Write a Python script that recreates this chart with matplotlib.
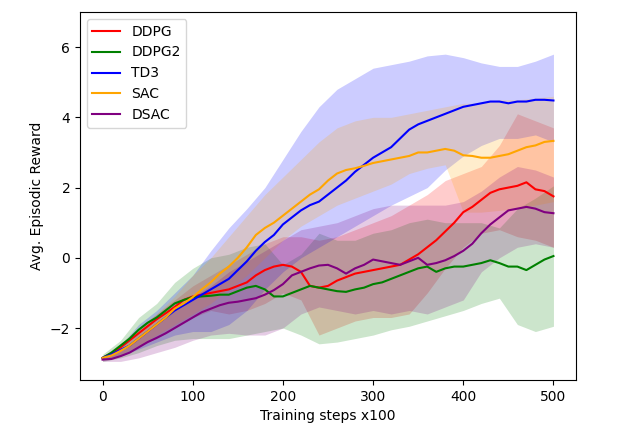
import numpy as np
import matplotlib
matplotlib.use("Agg")
import matplotlib.pyplot as plt

# mean curves, read every 10 training steps (x100)
steps = list(range(0, 501, 10))

ddpg_mean = [-2.85, -2.72, -2.55, -2.35, -2.15, -1.95, -1.75, -1.58, -1.4, -1.2,
             -1.1, -1.05, -1.0, -0.95, -0.9, -0.8, -0.7, -0.5, -0.35, -0.25,
             -0.2, -0.25, -0.4, -0.8, -0.85, -0.8, -0.65, -0.55, -0.45, -0.4,
             -0.35, -0.3, -0.25, -0.2, -0.05, 0.1, 0.3, 0.5, 0.75, 1.0,
             1.3, 1.45, 1.65, 1.85, 1.95, 2.0, 2.05, 2.15, 1.95, 1.9, 1.75]
ddpg2_mean = [-2.85, -2.7, -2.5, -2.3, -2.05, -1.85, -1.7, -1.5, -1.3, -1.2,
              -1.12, -1.1, -1.08, -1.05, -1.05, -0.95, -0.85, -0.8, -0.9, -1.1,
              -1.1, -1.0, -0.9, -0.8, -0.85, -0.9, -0.95, -0.97, -0.9, -0.85,
              -0.75, -0.7, -0.6, -0.5, -0.4, -0.3, -0.25, -0.4, -0.3, -0.25,
              -0.25, -0.2, -0.15, -0.07, -0.15, -0.25, -0.25, -0.35, -0.2, -0.05, 0.05]
td3_mean = [-2.85, -2.75, -2.62, -2.5, -2.3, -2.1, -1.9, -1.7, -1.5, -1.35,
            -1.2, -1.05, -0.9, -0.75, -0.6, -0.35, -0.1, 0.2, 0.45, 0.65,
            0.95, 1.15, 1.35, 1.5, 1.6, 1.8, 2.0, 2.2, 2.45, 2.65,
            2.85, 3.0, 3.15, 3.4, 3.65, 3.8, 3.9, 4.0, 4.1, 4.2,
            4.3, 4.35, 4.4, 4.45, 4.45, 4.4, 4.45, 4.45, 4.5, 4.5, 4.48]
sac_mean = [-2.85, -2.78, -2.65, -2.5, -2.3, -2.1, -1.9, -1.7, -1.45, -1.3,
            -1.12, -0.9, -0.7, -0.45, -0.25, 0.0, 0.3, 0.65, 0.85, 1.0,
            1.2, 1.4, 1.6, 1.8, 1.95, 2.2, 2.4, 2.5, 2.55, 2.62,
            2.7, 2.75, 2.8, 2.85, 2.9, 3.0, 3.0, 3.05, 3.1, 3.05,
            2.92, 2.9, 2.85, 2.85, 2.9, 2.95, 3.05, 3.15, 3.2, 3.3, 3.33]
dsac_mean = [-2.9, -2.88, -2.8, -2.7, -2.55, -2.4, -2.28, -2.15, -2.0, -1.85,
             -1.7, -1.55, -1.45, -1.35, -1.28, -1.25, -1.2, -1.15, -1.05, -0.92,
             -0.75, -0.5, -0.4, -0.3, -0.22, -0.2, -0.3, -0.45, -0.3, -0.2,
             -0.05, -0.1, -0.15, -0.2, -0.1, 0.0, -0.2, -0.15, -0.07, 0.05,
             0.2, 0.4, 0.7, 0.95, 1.15, 1.35, 1.4, 1.45, 1.4, 1.3, 1.27]

# shaded bands, read every 20 steps
band_steps = list(range(0, 501, 20))

ddpg_upper = [-2.8, -2.45, -2.0, -1.6, -1.2, -0.8, -0.5, -0.2, 0.1, 0.4, 0.6, 0.6, 0.5,
              0.6, 0.8, 1.0, 1.2, 1.5, 1.8, 2.2, 2.4, 2.6, 3.2, 4.1, 3.9, 3.7]
ddpg_lower = [-2.9, -2.8, -2.5, -2.3, -2.0, -1.7, -1.5, -1.6, -1.5, -1.3, -1.0, -1.2, -2.2,
              -2.0, -1.8, -1.7, -1.7, -1.6, -1.0, -0.3, 0.3, 0.7, 0.8, 0.6, 0.5, 0.3]
ddpg2_upper = [-2.75, -2.35, -1.7, -1.3, -0.7, -0.3, 0.0, 0.1, 0.3, 0.4, -0.2, 0.1, 0.7,
               0.5, 0.5, 0.7, 0.8, 1.0, 1.1, 1.0, 1.0, 1.0, 0.85, 1.4, 1.7, 2.05]
ddpg2_lower = [-2.95, -2.85, -2.7, -2.5, -2.35, -2.3, -2.3, -2.3, -2.2, -2.1, -2.0, -2.2, -2.45,
               -2.4, -2.3, -2.2, -2.05, -1.95, -1.8, -1.65, -1.5, -1.3, -1.15, -1.9, -2.1, -1.95]
td3_upper = [-2.8, -2.5, -1.9, -1.5, -1.0, -0.5, 0.2, 0.85, 1.4, 2.0, 2.8, 3.6, 4.3,
             4.8, 5.1, 5.4, 5.5, 5.6, 5.75, 5.8, 5.7, 5.55, 5.45, 5.45, 5.6, 5.8]
td3_lower = [-2.9, -2.8, -2.6, -2.4, -2.2, -2.1, -2.1, -1.9, -1.5, -0.9, -0.4, 0.0, 0.3,
             0.6, 0.9, 1.2, 1.5, 1.75, 2.0, 2.5, 2.9, 3.2, 3.4, 3.4, 3.5, 3.3]
sac_upper = [-2.8, -2.5, -2.0, -1.6, -1.1, -0.5, 0.0, 0.6, 1.2, 1.8, 2.3, 2.8, 3.3,
             3.7, 3.9, 4.0, 4.0, 4.1, 4.2, 4.3, 4.4, 4.4, 4.5, 4.5, 4.55, 4.6]
sac_lower = [-2.9, -2.75, -2.5, -2.2, -1.9, -1.6, -1.3, -0.9, -0.5, 0.0, 0.5, 0.9, 1.2,
             1.5, 1.7, 1.9, 2.1, 2.4, 2.55, 2.65, 1.3, 1.3, 1.35, 1.4, 1.5, 1.6]
dsac_upper = [-2.85, -2.65, -2.3, -1.9, -1.5, -1.1, -0.8, -0.4, -0.1, 0.2, 0.5, 0.8, 0.9,
              1.0, 1.2, 1.4, 1.5, 1.5, 1.5, 1.5, 1.6, 1.9, 2.3, 2.6, 2.5, 2.3]
dsac_lower = [-2.95, -2.95, -2.85, -2.7, -2.55, -2.35, -2.2, -2.15, -2.2, -2.2, -2.0, -1.6, -1.4,
              -1.5, -1.6, -1.5, -1.6, -1.5, -1.6, -1.4, -1.2, -0.4, 0.0, 0.3, 0.4, 0.3]

labels = ["DDPG", "DDPG2", "TD3", "SAC", "DSAC"]
colors = ["red", "green", "blue", "orange", "purple"]
means = [ddpg_mean, ddpg2_mean, td3_mean, sac_mean, dsac_mean]
uppers = [ddpg_upper, ddpg2_upper, td3_upper, sac_upper, dsac_upper]
lowers = [ddpg_lower, ddpg2_lower, td3_lower, sac_lower, dsac_lower]

fig = plt.figure(figsize=(6.38, 4.33), dpi=100)
ax = fig.add_axes([80 / 638, 1 - 380 / 433, 496 / 638, 368 / 433])

for label, color, mean, upper, lower in zip(labels, colors, means, uppers, lowers):
    ax.plot(steps, mean, color=color, label=label, linewidth=1.5)
    ax.fill_between(band_steps, lower, upper, color=color, alpha=0.2, linewidth=0)

ax.set_xlim(-25, 525)
ax.set_ylim(-3.48, 7.0)
ax.set_xlabel("Training steps x100")
ax.set_ylabel("Avg. Episodic Reward")
ax.legend(loc="upper left")

fig.savefig("out.png", dpi=100)
